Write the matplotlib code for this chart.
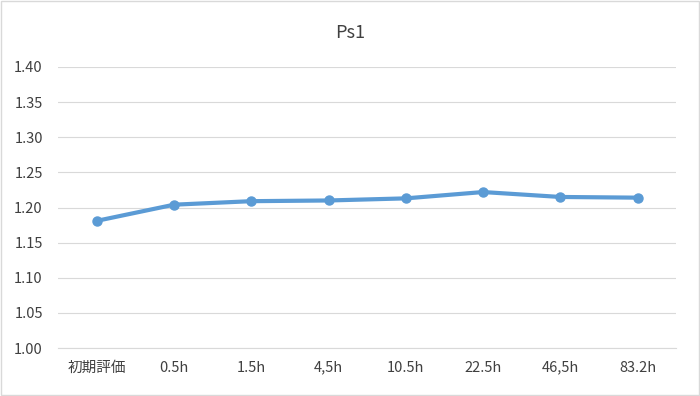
import matplotlib.pyplot as plt

plt.rcParams['font.family'] = ['Noto Sans CJK JP', 'DejaVu Sans']

categories = ['初期評価', '0.5h', '1.5h', '4,5h', '10.5h', '22.5h', '46,5h', '83.2h']
values = [1.181, 1.204, 1.209, 1.210, 1.213, 1.222, 1.215, 1.214]
yticks = [1.00, 1.05, 1.10, 1.15, 1.20, 1.25, 1.30, 1.35, 1.40]

fig = plt.figure(figsize=(7, 3.96), dpi=100)
ax = fig.add_axes([0.083, 0.121, 0.883, 0.710])

x = range(len(categories))
ax.plot(x, values, color='#5B9BD5', linewidth=3, marker='o', markersize=6.5,
        solid_capstyle='round', zorder=3)

ax.set_xlim(-0.5, len(categories) - 0.5)
ax.set_ylim(1.00, 1.40)
ax.set_yticks(yticks)
ax.set_yticklabels([f'{v:.2f}' for v in yticks])
ax.set_xticks(list(x))
ax.set_xticklabels(categories)

ax.grid(axis='y', color='#D9D9D9', linewidth=0.8)
ax.set_axisbelow(True)
for s in ['top', 'right', 'left']:
    ax.spines[s].set_visible(False)
ax.spines['bottom'].set_color('#D9D9D9')
ax.tick_params(axis='both', length=0, colors='#404040', labelsize=10.5)
ax.tick_params(axis='x', pad=9)
ax.tick_params(axis='y', pad=11)

fig.text(0.5, 0.917, 'Ps1', ha='center', va='center', fontsize=13, color='#404040')

# outer chart border
fig.patches.append(plt.Rectangle((0.001, 0.002), 0.997, 0.995, transform=fig.transFigure,
                                 fill=False, edgecolor='#D9D9D9', linewidth=1))

fig.savefig('out.png', dpi=100)
